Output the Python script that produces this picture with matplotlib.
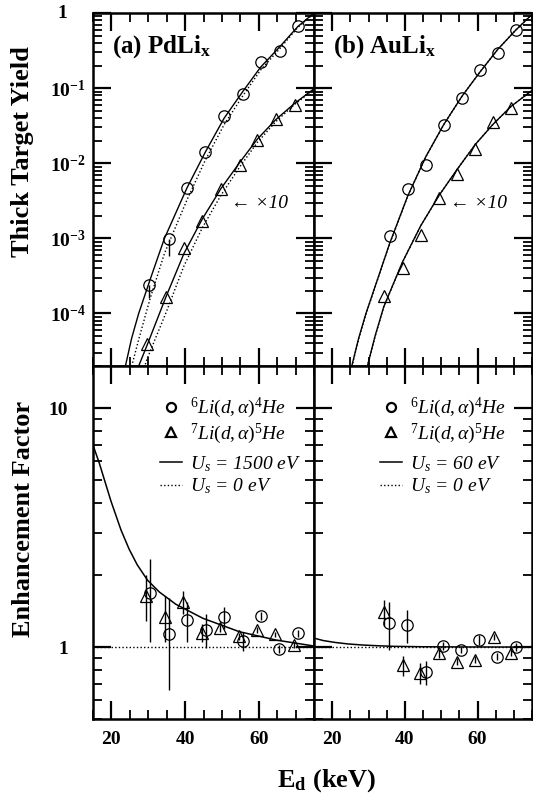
import matplotlib
matplotlib.use('Agg')
import matplotlib.pyplot as plt
from matplotlib.lines import Line2D
from matplotlib.transforms import ScaledTranslation, blended_transform_factory
from matplotlib.ticker import MultipleLocator, LogLocator, FixedLocator, NullFormatter

plt.rcParams['font.family'] = ['Liberation Serif', 'DejaVu Serif']
plt.rcParams['mathtext.fontset'] = 'custom'
plt.rcParams['mathtext.rm'] = 'Liberation Serif'
plt.rcParams['mathtext.it'] = 'Liberation Serif:italic'
plt.rcParams['mathtext.bf'] = 'Liberation Serif:bold'

# ---------------- data: (a) PdLix, thick target yield ----------------
pd6_E = [30.3, 35.5, 40.5, 45.5, 50.6, 55.6, 60.5, 65.7, 70.6]
pd6_Y = [2.42e-4, 9.9e-4, 4.7e-3, 1.41e-2, 4.3e-2, 8.3e-2, 0.223, 0.31, 0.667]
pd6_errlo = [0.79e-4, 4.0e-4, 0, 0, 0, 0, 0, 0, 0]
pd7_E = [29.7, 34.8, 39.7, 44.7, 49.7, 54.8, 59.6, 64.6, 69.8]
pd7_Y = [3.98e-5, 1.67e-4, 7.41e-4, 1.72e-3, 4.52e-3, 9.57e-3, 2.05e-2, 3.89e-2, 5.96e-2]

pd6_fitE = [23.8, 25.5, 27.4, 30.5, 34.4, 40.5, 45.5, 50.6, 55.6, 60.5, 65.7, 70.6, 75.0]
pd6_fitY = [2.0e-5, 4.7e-5, 1.0e-4, 2.82e-4, 1.0e-3, 4.68e-3, 1.41e-2, 3.98e-2, 8.91e-2, 0.19, 0.355, 0.66, 1.0]
pd6_bareE = [25.0, 27.4, 30.5, 34.4, 40.5, 45.5, 50.6, 55.6, 60.5, 65.7, 70.6, 75.0]
pd6_bareY = [1.6e-5, 4.5e-5, 1.58e-4, 6.3e-4, 3.24e-3, 1.10e-2, 3.27e-2, 7.8e-2, 0.174, 0.335, 0.641, 0.989]
pd7_fitE = [27.4, 29.7, 34.8, 39.7, 44.7, 49.7, 54.8, 59.6, 64.6, 69.8, 75.0]
pd7_fitY = [2.0e-5, 3.8e-5, 1.66e-4, 6.3e-4, 1.82e-3, 4.57e-3, 1.02e-2, 2.09e-2, 3.8e-2, 6.3e-2, 9.8e-2]
pd7_bareE = [27.4, 29.7, 34.8, 39.7, 44.7, 49.7, 54.8, 59.6, 64.6, 69.8, 75.0]
pd7_bareY = [1.12e-5, 2.5e-5, 1.02e-4, 4.3e-4, 1.39e-3, 3.72e-3, 8.9e-3, 1.89e-2, 3.57e-2, 6.1e-2, 9.66e-2]

# ---------------- data: (b) AuLix, thick target yield ----------------
au6_E = [35.8, 40.8, 45.8, 50.7, 55.7, 60.6, 65.6, 70.6]
au6_Y = [1.06e-3, 4.48e-3, 9.6e-3, 3.27e-2, 7.5e-2, 0.173, 0.296, 0.585]
au7_E = [34.2, 39.4, 44.4, 49.4, 54.4, 59.4, 64.3, 69.3]
au7_Y = [1.73e-4, 4.04e-4, 1.11e-3, 3.47e-3, 7.28e-3, 1.56e-2, 3.58e-2, 5.43e-2]

au6_fitE = [25.4, 27.3, 29.3, 35.8, 40.8, 45.8, 50.7, 55.7, 60.6, 65.6, 70.6, 75.0]
au6_fitY = [2.0e-5, 4.7e-5, 1.0e-4, 8.5e-4, 3.67e-3, 1.23e-2, 3.27e-2, 7.76e-2, 0.162, 0.329, 0.597, 0.955]
au6_bareY = [1.95e-5, 4.6e-5, 9.8e-5, 8.4e-4, 3.65e-3, 1.22e-2, 3.26e-2, 7.75e-2, 0.162, 0.329, 0.597, 0.955]
au7_fitE = [29.7, 31.8, 34.2, 39.4, 44.4, 49.4, 54.4, 59.4, 64.3, 69.3, 75.0]
au7_fitY = [2.0e-5, 5.0e-5, 1.23e-4, 4.9e-4, 1.48e-3, 3.72e-3, 8.3e-3, 1.78e-2, 3.31e-2, 5.75e-2, 9.3e-2]
au7_bareY = [1.96e-5, 4.9e-5, 1.22e-4, 4.88e-4, 1.475e-3, 3.71e-3, 8.28e-3, 1.78e-2, 3.31e-2, 5.75e-2, 9.3e-2]

# ---------------- data: enhancement factors ----------------
pdf6_E = [30.4, 35.5, 40.5, 45.7, 50.7, 55.6, 60.6, 65.6, 70.6]
pdf6 = [1.69, 1.13, 1.30, 1.18, 1.33, 1.06, 1.35, 0.98, 1.14]
pdf6_err = [0.64, 0.47, 0.25, 0.19, 0.14, 0.10, 0.05, 0.04, 0.04]
pdf7_E = [29.5, 34.6, 39.5, 44.6, 49.6, 54.6, 59.5, 64.5, 69.5]
pdf7 = [1.64, 1.34, 1.54, 1.15, 1.20, 1.11, 1.18, 1.13, 1.02]
pdf7_err = [0.36, 0.29, 0.17, 0.10, 0.04, 0.04, 0.03, 0.03, 0.03]
pd_fitE = [15.0, 16.7, 18.1, 19.9, 22.6, 24.8, 27.0, 29.8, 33.0, 37.5, 44.8, 54.7, 64.7, 75.0]
pd_fitF = [7.0, 5.89, 5.01, 4.07, 3.09, 2.57, 2.21, 1.905, 1.70, 1.51, 1.32, 1.16, 1.07, 1.01]

auf6_E = [35.6, 40.5, 45.7, 50.5, 55.5, 60.5, 65.4, 70.6]
auf6 = [1.26, 1.235, 0.785, 1.01, 0.975, 1.07, 0.91, 1.0]
auf6_err = [0.29, 0.20, 0.09, 0.04, 0.03, 0.05, 0.03, 0.04]
auf7_E = [34.4, 39.4, 44.3, 49.4, 54.4, 59.4, 64.5, 69.3]
auf7 = [1.40, 0.84, 0.78, 0.944, 0.87, 0.885, 1.10, 0.944]
auf7_err = [0.18, 0.08, 0.08, 0.04, 0.03, 0.03, 0.03, 0.03]
au_fitE = [15.0, 17.5, 20.7, 24.5, 28.8, 33.0, 37.0, 45.0, 55.0, 75.0]
au_fitF = [1.09, 1.065, 1.046, 1.03, 1.019, 1.012, 1.007, 1.003, 1.001, 1.0]

bare_E = [15.0, 75.0]
bare_F = [1.0, 1.0]

top_ticks = [1e-4, 1e-3, 1e-2, 1e-1, 1.0]
top_labels = [r'$\mathbf{10^{-4}}$', r'$\mathbf{10^{-3}}$', r'$\mathbf{10^{-2}}$',
              r'$\mathbf{10^{-1}}$', '']
top_unit_label = '1'
bot_ticks = [1.0, 10.0]
bot_labels = ['1', '10']
x_ticks = [20, 40, 60]

# ---------------- figure ----------------
W, H = 533, 796
fig = plt.figure(figsize=(W / 100, H / 100), dpi=100)
xl, xm, xr = 93 / W, 314 / W, 532 / W
yb, ymid, yt = 1 - 719 / H, 1 - 366 / H, 1 - 13 / H
ax_a = fig.add_axes([xl, ymid, xm - xl, yt - ymid])
ax_b = fig.add_axes([xm, ymid, xr - xm, yt - ymid])
ax_c = fig.add_axes([xl, yb, xm - xl, ymid - yb])
ax_d = fig.add_axes([xm, yb, xr - xm, ymid - yb])

dot = (0, (1.0, 1.6))
mk = dict(mfc='none', mec='black', mew=0.9, ms=8.2, ls='none', color='black')
mk_t = dict(mfc='none', mec='black', mew=0.9, ms=8.8, ls='none', color='black')

for ax in (ax_a, ax_b, ax_c, ax_d):
    ax.set_xlim(15, 75)
    ax.set_yscale('log')
    ax.xaxis.set_major_locator(FixedLocator(x_ticks))
    ax.xaxis.set_minor_locator(MultipleLocator(5))
    for s in ax.spines.values():
        s.set_linewidth(1.8)
    ax.tick_params(which='both', direction='in', top=True, right=True, colors='black')
    ax.tick_params(which='major', length=13, width=1.6)
    ax.tick_params(which='minor', length=6.5, width=1.3)

for ax in (ax_a, ax_b):
    ax.set_ylim(2e-5, 1)
    ax.yaxis.set_major_locator(FixedLocator(top_ticks))
    ax.yaxis.set_minor_locator(LogLocator(base=10, subs=[2, 3, 4, 5, 6, 7, 8, 9]))
    ax.yaxis.set_minor_formatter(NullFormatter())
    ax.set_xticklabels([])
for ax in (ax_c, ax_d):
    ax.set_ylim(0.5, 15)
    ax.yaxis.set_major_locator(FixedLocator(bot_ticks))
    ax.yaxis.set_minor_locator(LogLocator(base=10, subs=[2, 3, 4, 5, 6, 7, 8, 9]))
    ax.yaxis.set_minor_formatter(NullFormatter())
    ax.set_xticklabels([str(v) for v in x_ticks], fontsize=14, fontweight='bold')
    ax.tick_params(axis='x', which='major', pad=9)

ax_a.tick_params(axis='y', which='major', pad=5)
ax_a.set_yticklabels(top_labels, fontsize=14)
ax_b.set_yticklabels([])
ax_c.tick_params(axis='y', which='major', pad=18)
ax_c.set_yticklabels(bot_labels, fontsize=14, fontweight='bold')
ax_d.set_yticklabels([])

# the plain "1" label, aligned with the "10" of the power-of-ten labels
ax_a.text(0, top_ticks[-1], top_unit_label, fontsize=14, fontweight='bold', ha='right', va='center',
          transform=blended_transform_factory(ax_a.transAxes, ax_a.transData)
          + ScaledTranslation(-0.26, 0, fig.dpi_scale_trans))

# top-left
ax_a.plot(pd6_fitE, pd6_fitY, color='black', lw=1.0)
ax_a.plot(pd6_bareE, pd6_bareY, color='black', lw=1.0, ls=dot)
ax_a.plot(pd7_fitE, pd7_fitY, color='black', lw=1.0)
ax_a.plot(pd7_bareE, pd7_bareY, color='black', lw=1.0, ls=dot)
ax_a.errorbar(pd6_E, pd6_Y, yerr=[pd6_errlo, [0] * len(pd6_E)], marker='o', ecolor='black',
              elinewidth=1.0, capsize=0, **mk)
ax_a.plot(pd7_E, pd7_Y, marker='^', **mk_t)

# top-right
ax_b.plot(au6_fitE, au6_fitY, color='black', lw=1.0)
ax_b.plot(au6_fitE, au6_bareY, color='black', lw=1.0, ls=dot)
ax_b.plot(au7_fitE, au7_fitY, color='black', lw=1.0)
ax_b.plot(au7_fitE, au7_bareY, color='black', lw=1.0, ls=dot)
ax_b.plot(au6_E, au6_Y, marker='o', **mk)
ax_b.plot(au7_E, au7_Y, marker='^', **mk_t)

# bottom-left
ax_c.plot(bare_E, bare_F, color='black', lw=1.0, ls=dot)
ax_c.plot(pd_fitE, pd_fitF, color='black', lw=1.1)
ax_c.errorbar(pdf6_E, pdf6, yerr=pdf6_err, marker='o', ecolor='black', elinewidth=1.0, capsize=0, **mk)
ax_c.errorbar(pdf7_E, pdf7, yerr=pdf7_err, marker='^', ecolor='black', elinewidth=1.0, capsize=0, **mk_t)

# bottom-right
ax_d.plot(bare_E, bare_F, color='black', lw=1.0, ls=dot)
ax_d.plot(au_fitE, au_fitF, color='black', lw=1.1)
ax_d.errorbar(auf6_E, auf6, yerr=auf6_err, marker='o', ecolor='black', elinewidth=1.0, capsize=0, **mk)
ax_d.errorbar(auf7_E, auf7, yerr=auf7_err, marker='^', ecolor='black', elinewidth=1.0, capsize=0, **mk_t)

# panel labels
ax_a.text(0.086, 0.887, r'(a) PdLi$_{\mathbf{x}}$', transform=ax_a.transAxes,
          fontsize=18, fontweight='bold', va='baseline', ha='left')
ax_b.text(0.088, 0.887, r'(b) AuLi$_{\mathbf{x}}$', transform=ax_b.transAxes,
          fontsize=18, fontweight='bold', va='baseline', ha='left')
for ax in (ax_a, ax_b):
    ax.text(52.5, 2.95e-3, '\u2190 \u00d710', fontsize=14, style='italic', ha='left', va='center')

# legends
lab6 = r'$^{6}Li(d,\alpha)^{4}He$'
lab7 = r'$^{7}Li(d,\alpha)^{5}He$'
for ax, us in ((ax_c, '1500'), (ax_d, '60')):
    h1 = [Line2D([], [], marker='o', ls='none', mfc='none', mec='black', mew=1.6, ms=6.5),
          Line2D([], [], marker='^', ls='none', mfc='none', mec='black', mew=1.6, ms=7)]
    l1 = ax.legend(h1, [lab6, lab7], loc='upper left', bbox_to_anchor=(0.303, 0.915),
                   frameon=False, borderpad=0, borderaxespad=0, handlelength=1.13,
                   handletextpad=0.41, labelspacing=0.08, prop={'size': 14, 'style': 'italic'})
    ax.add_artist(l1)
    h2 = [Line2D([], [], color='black', lw=1.1),
          Line2D([], [], color='black', lw=1.0, ls=dot)]
    ax.legend(h2, [r'$U_s$ = %s eV' % us, r'$U_s$ = 0 eV'], loc='upper left',
              bbox_to_anchor=(0.303, 0.751), frameon=False, borderpad=0, borderaxespad=0,
              handlelength=1.13, handletextpad=0.41, labelspacing=0.16,
              prop={'size': 14, 'style': 'italic'})

# axis titles
fig.text(23 / W, 1 - 152 / H, 'Thick Target Yield', rotation=90, ha='center', va='center',
         fontsize=19, fontweight='bold')
fig.text(24 / W, 1 - 519 / H, 'Enhancement Factor', rotation=90, ha='center', va='center',
         fontsize=19, fontweight='bold')
fig.text(327 / W, 1 - 781 / H, r'E$_{\mathbf{d}}$ (keV)', ha='center', va='center',
         fontsize=19, fontweight='bold')

fig.savefig('out.png', dpi=100)
